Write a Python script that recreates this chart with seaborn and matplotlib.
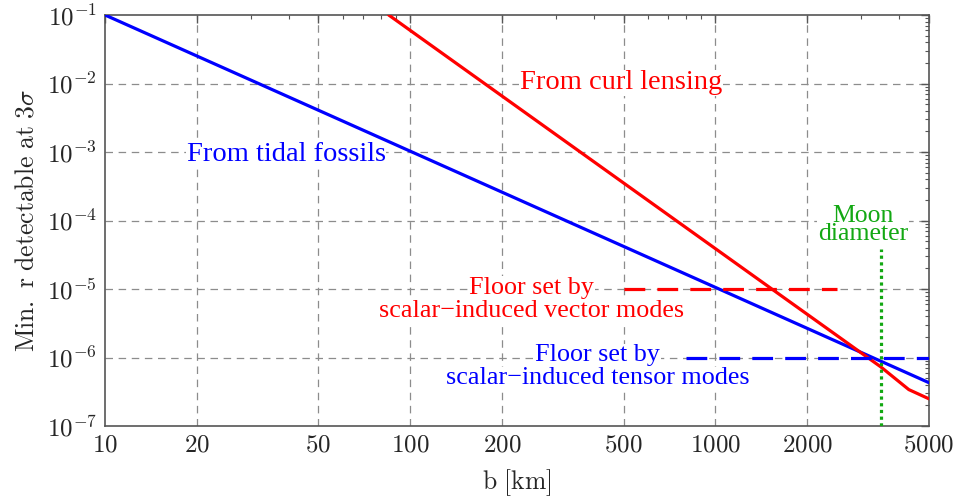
import numpy as np
import pandas as pd
import matplotlib
matplotlib.use("Agg")
import matplotlib.pyplot as plt
import seaborn as sns
from matplotlib.ticker import FixedLocator, FixedFormatter, LogLocator, NullFormatter

# Sensitivity curves: minimum detectable r versus baseline b [km]
tidal_b = [10, 5000]
tidal_r = [1e-1, 4.3e-7]

curl_b = [85, 1530, 3480, 4300, 5000]
curl_r = [1e-1, 1e-5, 7.3e-7, 3.4e-7, 2.5e-7]

# Floors from scalar-induced modes
vector_floor_b = [500, 2500]
vector_floor_r = [1e-5, 1e-5]
tensor_floor_b = [800, 5000]
tensor_floor_r = [1e-6, 1e-6]

# Moon diameter marker
moon_b = [3474, 3474]
moon_r = [1e-7, 3.8e-5]

x_ticks = [10, 20, 50, 100, 200, 500, 1000, 2000, 5000]
x_tick_labels = ["10", "20", "50", "100", "200", "500", "1000", "2000", "5000"]
y_ticks = [1e-7, 1e-6, 1e-5, 1e-4, 1e-3, 1e-2, 1e-1]
y_tick_labels = [r"$10^{-7}$", r"$10^{-6}$", r"$10^{-5}$", r"$10^{-4}$",
                 r"$10^{-3}$", r"$10^{-2}$", r"$10^{-1}$"]

sns.set_theme(style="white")
plt.rcParams["mathtext.fontset"] = "cm"
plt.rcParams["font.family"] = ["Liberation Serif", "DejaVu Serif"]

fig = plt.figure(figsize=(9.59, 5.0), dpi=100)
ax = fig.add_axes([0.1095, 0.148, 0.859, 0.822])
ax.set_xscale("log")
ax.set_yscale("log")

blue = "#0000ff"
red = "#ff0000"
green = "#13a813"

tidal = pd.DataFrame({"b": tidal_b, "r": tidal_r})
curl = pd.DataFrame({"b": curl_b, "r": curl_r})
vfloor = pd.DataFrame({"b": vector_floor_b, "r": vector_floor_r})
tfloor = pd.DataFrame({"b": tensor_floor_b, "r": tensor_floor_r})
moon = pd.DataFrame({"b": moon_b, "r": moon_r})

# grid lines at the major ticks
for xv in x_ticks[1:-1]:
    ax.axvline(xv, color="#8c8c8c", lw=0.9, dashes=(6, 4.5), zorder=0.5)
for yv in y_ticks[1:-1]:
    ax.axhline(yv, color="#8c8c8c", lw=0.9, dashes=(6, 4.5), zorder=0.5)

common = dict(ax=ax, lw=2.3, estimator=None, sort=False, zorder=3)
sns.lineplot(data=tidal, x="b", y="r", color=blue, **common)
sns.lineplot(data=curl, x="b", y="r", color=red, **common)
sns.lineplot(data=vfloor, x="b", y="r", color=red, linestyle=(0, (6.5, 3.8)), **common)
sns.lineplot(data=tfloor, x="b", y="r", color=blue, linestyle=(0, (6.5, 3.8)), **common)
sns.lineplot(data=moon, x="b", y="r", color=green, linestyle=(0, (1, 1.1)), **common)

ax.set_xlim(10, 5000)
ax.set_ylim(1e-7, 1e-1)

ax.xaxis.set_major_locator(FixedLocator(x_ticks))
ax.xaxis.set_major_formatter(FixedFormatter([r"$\mathrm{%s}$" % t for t in x_tick_labels]))
ax.xaxis.set_minor_locator(LogLocator(base=10, subs=np.arange(2, 10), numticks=20))
ax.xaxis.set_minor_formatter(NullFormatter())
ax.yaxis.set_major_locator(FixedLocator(y_ticks))
ax.yaxis.set_major_formatter(FixedFormatter(y_tick_labels))
ax.yaxis.set_minor_locator(LogLocator(base=10, subs=np.arange(2, 10), numticks=20))
ax.yaxis.set_minor_formatter(NullFormatter())

ax.tick_params(which="both", direction="in", top=True, right=True,
               color="#555555", labelsize=18, pad=6)
ax.tick_params(which="major", length=6, width=1.0)
ax.tick_params(which="minor", length=3, width=0.8)
for s in ax.spines.values():
    s.set_color("#555555")
    s.set_linewidth(1.2)

ax.set_xlabel(r"$\mathrm{b\ [km]}$", fontsize=18.5, labelpad=8)
ax.set_ylabel(r"$\mathrm{Min.\ r\ detectable\ at\ 3}\sigma$", fontsize=18.5, labelpad=6)


def label(x, y, s, c, size=20.5, spacing=1.0):
    ax.text(x, y, s, color=c, fontsize=size, ha="center", va="center",
            linespacing=spacing, zorder=2,
            bbox=dict(facecolor="white", edgecolor="none", pad=0.5))


label(490, 1.03e-2, "From curl lensing", red)
label(39.2, 9.2e-4, "From tidal fossils", blue)
label(249.5, 1.05e-5, "Floor set by", red, 18.8)
label(249.5, 4.7e-6, "scalar\u2212induced vector modes", red, 18.8)
label(412, 1.07e-6, "Floor set by", blue, 18.8)
label(412, 4.95e-7, "scalar\u2212induced tensor modes", blue, 18.8)
label(3041, 8.5e-5, "Moon\ndiameter", green, 18.5, 0.75)

fig.savefig("out.png", dpi=100)
